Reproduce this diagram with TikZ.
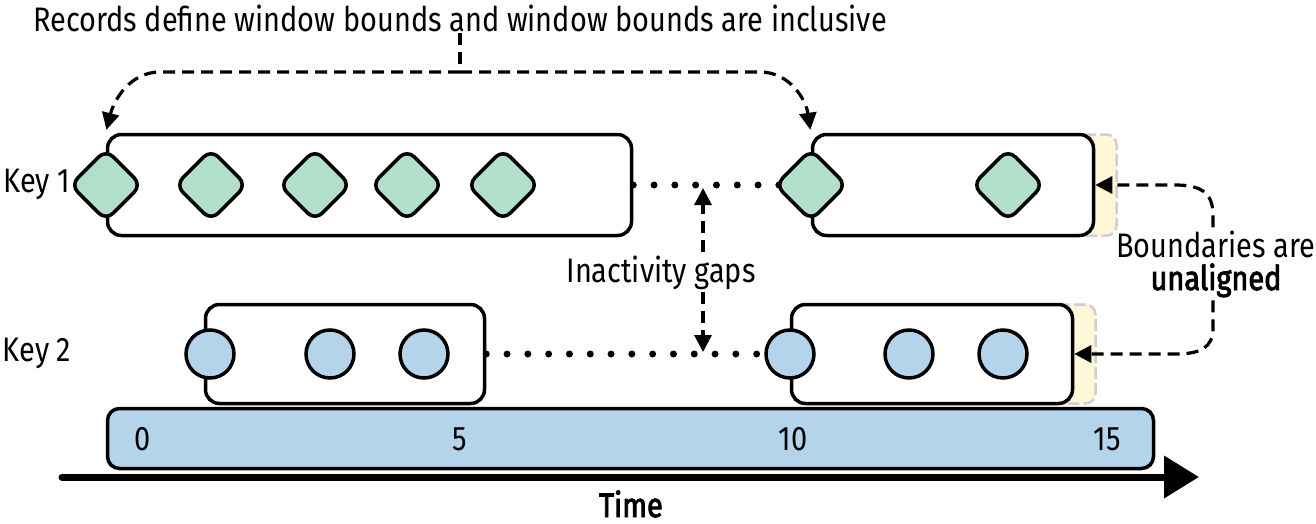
\documentclass[tikz,border=0pt]{standalone}
\usepackage{fontspec}
\setmainfont[FakeStretch=0.85]{Fira Sans}
\newfontfamily\medfont[FakeStretch=0.85, FakeBold=2.6]{Fira Sans}
\usetikzlibrary{arrows.meta}
\definecolor{mint}{HTML}{B2DFCA}
\definecolor{sky}{HTML}{B3D4EA}
\definecolor{cream}{HTML}{FFF8D8}
\definecolor{edgegray}{HTML}{CFCFCF}
\begin{document}
\begin{tikzpicture}[x=1pt,y=-1pt,
  win/.style={draw, line width=3.5pt, rounded corners=14pt, fill=white, inner sep=0pt},
  recd/.style={draw, line width=3.5pt, fill=mint, rotate=45, minimum size=50pt, rounded corners=10pt, inner sep=0pt},
  recc/.style={draw, line width=3.5pt, fill=sky, circle, minimum size=48pt, inner sep=0pt},
  gapline/.style={line width=7pt, line cap=round, dash pattern=on 0pt off 20.8pt},
  conn/.style={line width=3.2pt, dash pattern=on 12pt off 7pt},
  tip/.style={-{Triangle[length=17pt,width=17pt]}},
  hl/.style={fill=cream, draw=edgegray, line width=2.5pt, dash pattern=on 12pt off 4pt, rounded corners=10pt},
  lbl/.style={font=\fontsize{34}{36}\selectfont, inner sep=0pt, anchor=base},
]
\useasboundingbox (0,0) rectangle (1316,524);

% highlights behind window ends
\draw[hl] (1060,134.5) rectangle (1116.5,235.5);
\draw[hl] (1040,304.5) rectangle (1095.5,403.5);

% time bar
\node[win, fill=sky, rounded corners=12pt, minimum width=1046pt, minimum height=60pt] (bar) at (630.5,438.5) {};

% windows
\node[win, minimum width=524pt, minimum height=101pt] (w1a) at (369.5,185) {};
\node[win, minimum width=281pt, minimum height=101pt] (w1b) at (953,185) {};
\node[win, minimum width=279pt, minimum height=99pt] (w2a) at (345,354) {};
\node[win, minimum width=281pt, minimum height=99pt] (w2b) at (932,354) {};

% inactivity gap dotted lines
\draw[gapline] (w1a.east) -- (w1b.west);
\draw[gapline] (w2a.east) -- (w2b.west);

% records key 1
\node[recd] (d1) at (106,185) {};
\node[recd] (d2) at (211,185) {};
\node[recd] (d3) at (315,185) {};
\node[recd] (d4) at (407,185) {};
\node[recd] (d5) at (503,185) {};
\node[recd] (d6) at (811,185) {};
\node[recd] (d7) at (1008,185) {};

% records key 2
\node[recc] (c1) at (210,354) {};
\node[recc] (c2) at (330,354) {};
\node[recc] (c3) at (424,354) {};
\node[recc] (c4) at (790,354) {};
\node[recc] (c5) at (909,354) {};
\node[recc] (c6) at (1003,354) {};

% labels
\node[lbl] (title) at (460,32) {Records define window bounds and window bounds are inclusive};
\node[lbl] (k1) at (37,192) {Key 1};
\node[lbl] (k2) at (37,361) {Key 2};
\node[lbl, inner sep=3pt] (gaps) at (661,282) {Inactivity gaps};
\node[lbl, inner sep=3pt] (bnd1) at (1216,257) {Boundaries are};
\node[lbl, inner sep=3pt, font=\fontsize{34}{36}\selectfont\medfont] (bnd2) at (1216,290) {unaligned};
\node[lbl] (t0) at (143,450) {0};
\node[lbl] (t5) at (460,450) {5};
\node[lbl] (t10) at (793,450) {10};
\node[lbl] (t15) at (1107,450) {15};
\node[lbl, font=\fontsize{34}{36}\selectfont\medfont] (time) at (631,517) {Time};

% time axis
\coordinate (ta) at (62,477);
\coordinate (tb) at (1199,477);
\draw[line width=7pt, line cap=round, -{Triangle[length=35pt,width=41pt]}] (ta) -- (tb);

% title connector
\coordinate (tj) at (460,72);
\draw[conn] (title.south) -- (tj);
\draw[conn, tip, shorten >=3pt] (tj) -- (160,72) .. controls (130,72) and (114,100) .. (w1a.north west);
\draw[conn, tip, shorten >=3pt] (tj) -- (760,72) .. controls (790,72) and (806,100) .. (w1b.north west);

% inactivity gap arrows
\coordinate (gx) at (703,0);
\draw[conn, tip, shorten >=3pt] (gaps.north -| gx) -- (gx |- w1a.east);
\draw[conn, tip, shorten >=2pt] (gaps.south -| gx) -- (gx |- w2a.east);

% boundaries connectors
\coordinate (bx) at (1213,0);
\draw[conn, tip] (bnd1.north -| bx) -- (1213,215) .. controls (1213,192) and (1200,185) .. (1175,185) -- (w1b.east);
\draw[conn, tip] (bnd2.south -| bx) -- (1213,328) .. controls (1213,348) and (1200,354) .. (1175,354) -- (w2b.east);
\end{tikzpicture}
\end{document}
